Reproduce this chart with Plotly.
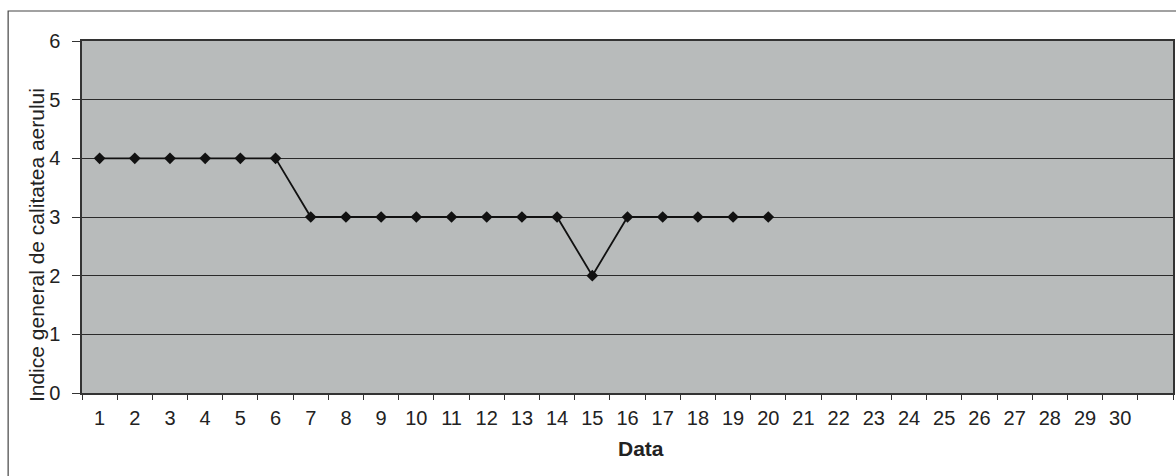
import plotly.graph_objects as go

days = [str(i) for i in range(1, 31)] + [" "]
values = [4, 4, 4, 4, 4, 4, 3, 3, 3, 3, 3, 3, 3, 3, 2, 3, 3, 3, 3, 3]
y_ticks = [0, 1, 2, 3, 4, 5, 6]
x_title = "Data"
y_title = "Indice general de calitatea aerului"

W, H = 1176, 476
L, R, T, B = 82, 1, 41, 83
pw, ph = W - L - R, H - T - B

fig = go.Figure()
fig.add_trace(go.Scatter(
    x=days[:len(values)], y=values, mode="lines+markers",
    line=dict(color="#111111", width=1.8),
    marker=dict(symbol="diamond", size=9, color="#111111"),
    showlegend=False, hoverinfo="skip"))

font = "Liberation Sans, Arial, sans-serif"

def px_x(p):
    return (p - L) / pw

def px_y(p):
    return (H - B - p) / ph

fig.add_shape(type="rect", xref="paper", yref="paper",
              x0=px_x(8), x1=px_x(1190), y0=px_y(490), y1=px_y(11),
              line=dict(color="#444444", width=1.2), fillcolor="rgba(0,0,0,0)", layer="below")

fig.add_annotation(text="<b>" + x_title + "</b>", xref="paper", yref="paper", x=px_x(642), y=px_y(448),
                   showarrow=False, font=dict(size=21, color="#222222", family=font),
                   xanchor="center", yanchor="middle")
fig.add_annotation(text=y_title, xref="paper", yref="paper", x=px_x(36), y=px_y(245),
                   textangle=-90, showarrow=False,
                   font=dict(size=21, color="#222222", family=font),
                   xanchor="center", yanchor="middle")

fig.update_layout(
    width=W, height=H,
    margin=dict(l=L, r=R, t=T, b=B),
    paper_bgcolor="white", plot_bgcolor="#b8bbbb",
    font=dict(family=font, size=20, color="#222222"),
    xaxis=dict(type="category", categoryorder="array", categoryarray=days,
               range=[-0.5, len(days) - 0.5],
               tickmode="array", tickvals=days, ticktext=days,
               tickson="boundaries", ticks="outside", ticklen=5, tickcolor="#333333",
               ticklabelstandoff=6,
               showgrid=False, showline=True, linecolor="#333333", linewidth=1.5, mirror=True,
               tickfont=dict(size=20, color="#222222")),
    yaxis=dict(range=[0, 6], tickvals=y_ticks, ticks="outside", ticklen=8, tickcolor="#333333",
               ticklabelstandoff=8,
               showgrid=True, gridcolor="#2a2a2a", gridwidth=1.2,
               showline=True, linecolor="#333333", linewidth=1.5, mirror=True,
               zeroline=False,
               tickfont=dict(size=20, color="#222222")),
)

fig.write_html("out.html")
